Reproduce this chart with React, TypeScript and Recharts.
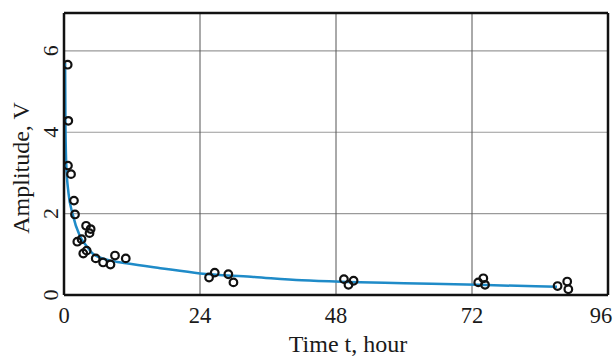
import React from 'react';
import { ComposedChart, Line, Scatter, XAxis, YAxis, CartesianGrid, ReferenceLine } from 'recharts';

const curveT = [0.2, 0.25, 0.4, 0.8, 1.5, 2.8, 4, 5.2, 8, 11, 17, 24, 33, 42, 50, 60, 73, 87];
const curveV = [5.7, 4.3, 3.2, 2.5, 2.0, 1.45, 1.2, 1.0, 0.85, 0.78, 0.66, 0.53, 0.45, 0.36, 0.32, 0.29, 0.25, 0.2];

const pointT = [0.65, 0.76, 0.7, 1.24, 1.76, 1.94, 3.9, 4.7, 4.5, 2.35, 3.1, 4.0, 3.4, 5.6, 6.9, 8.2, 9.0, 10.9, 25.6, 26.6, 29.0, 29.9, 49.4, 50.2, 51.1, 73.1, 74.0, 74.3, 87.1, 88.8, 89.0];
const pointV = [5.66, 4.28, 3.18, 2.97, 2.32, 1.98, 1.7, 1.62, 1.52, 1.31, 1.37, 1.09, 1.02, 0.9, 0.8, 0.75, 0.97, 0.9, 0.43, 0.55, 0.51, 0.31, 0.39, 0.25, 0.35, 0.31, 0.41, 0.25, 0.22, 0.33, 0.14];

const xTicks = [0, 24, 48, 72, 96];
const yTicks = [0, 2, 4, 6];

const curve = curveT.map((t, i) => ({ t, v: curveV[i] }));
const points = pointT.map((t, i) => ({ t, v: pointV[i] }));

const FONT = 'Liberation Serif';
const TXT = '#1a1a1a';

// baselines of tick texts (layout constants, not data)
const Y_TICK_BASELINE_X = 58;
const X_TICK_BASELINE_Y = 323;

const renderYTick = (props: any) => {
  const { y, payload } = props;
  const bx = Y_TICK_BASELINE_X;
  return (
    <text x={bx} y={y} transform={`rotate(-90, ${bx}, ${y})`} textAnchor="middle" style={{ fontFamily: FONT, fontSize: 22, fill: TXT }}>
      {payload.value}
    </text>
  );
};

const renderXTick = (props: any) => {
  const { x, payload, index } = props;
  const last = index === xTicks.length - 1;
  return (
    <text x={last ? x - 5 : x} y={X_TICK_BASELINE_Y} textAnchor="middle" style={{ fontFamily: FONT, fontSize: 22.5, fill: TXT }}>
      {payload.value}
    </text>
  );
};

const renderXLabel = (props: any) => {
  const vb = props.viewBox;
  return (
    <text x={vb.x + vb.width / 2 + 12} y={vb.y + 57} textAnchor="middle" style={{ fontFamily: FONT, fontSize: 24, fill: TXT }}>
      Time t, hour
    </text>
  );
};

const renderYLabel = (props: any) => {
  const vb = props.viewBox;
  const x = vb.x + 29;
  const y = vb.y + vb.height / 2 + 14;
  return (
    <text x={x} y={y} transform={`rotate(-90, ${x}, ${y})`} textAnchor="middle" style={{ fontFamily: FONT, fontSize: 24, fill: TXT }}>
      Amplitude, V
    </text>
  );
};

const Circle = (props: any) => {
  const { cx, cy } = props;
  return <circle cx={cx} cy={cy} r={3.8} fill="none" stroke="#111" strokeWidth={2.2} />;
};

export default function App() {
  return (
    <div style={{ position: 'absolute', left: 0, top: 0, background: '#fff' }}>
      <ComposedChart width={614} height={356} margin={{ top: 13, right: 6, bottom: 0, left: 0 }}>
        <CartesianGrid horizontal={true} vertical={false} stroke="#9a9a9a" strokeWidth={1.2} />
        <CartesianGrid horizontal={false} vertical={true} stroke="#555" strokeWidth={1} />
        <XAxis
          dataKey="t"
          type="number"
          domain={[0, 96]}
          ticks={xTicks}
          height={61}
          tickLine={false}
          axisLine={{ stroke: '#111', strokeWidth: 2.5 }}
          tick={renderXTick}
          label={{ content: renderXLabel }}
          allowDataOverflow
        />
        <YAxis
          dataKey="v"
          type="number"
          domain={[0, 6.93]}
          ticks={yTicks}
          width={64}
          tickLine={false}
          axisLine={{ stroke: '#111', strokeWidth: 2.5 }}
          tick={renderYTick}
          label={{ content: renderYLabel }}
          allowDataOverflow
        />
        <ReferenceLine y={6.93} stroke="#111" strokeWidth={2.5} />
        <ReferenceLine x={96} stroke="#111" strokeWidth={2.5} />
        <Line data={curve} dataKey="v" type="monotone" stroke="#1f8bc8" strokeWidth={2.5} dot={false} isAnimationActive={false} />
        <Scatter data={points} dataKey="v" shape={<Circle />} isAnimationActive={false} />
      </ComposedChart>
    </div>
  );
}
